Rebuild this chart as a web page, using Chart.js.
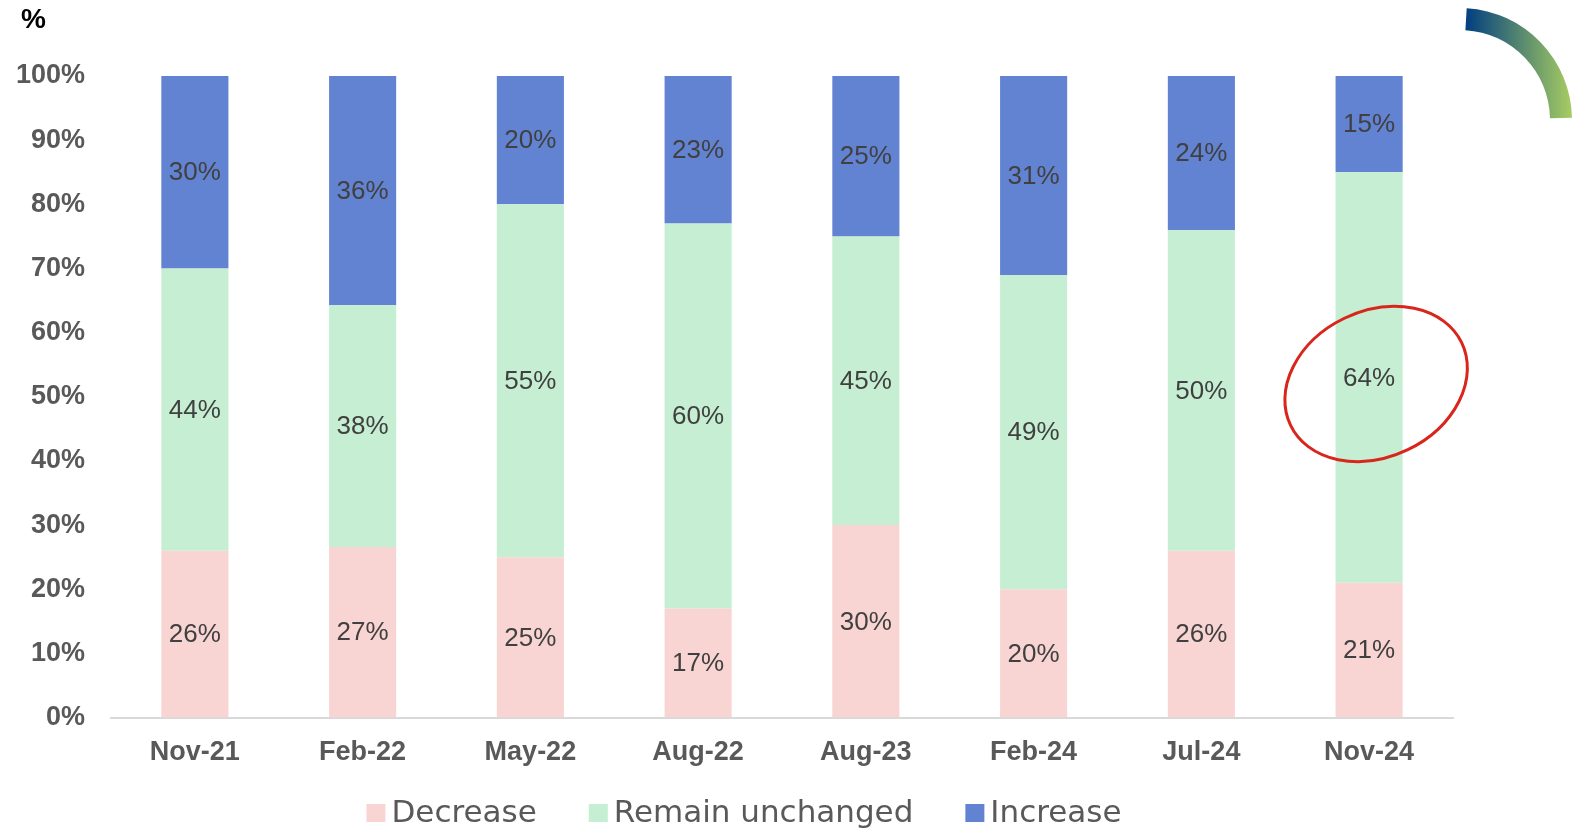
<!DOCTYPE html>
<html>
<head>
<meta charset="utf-8">
<script src="https://cdn.jsdelivr.net/npm/chart.js@4.4.1/dist/chart.umd.min.js"></script>
<style>
  html, body { margin: 0; padding: 0; background: #ffffff; }
  #wrap { position: relative; width: 1575px; height: 828px; }
  #unit { position: absolute; left: 21px; top: 5px; font: bold 28px/1 "Liberation Sans", sans-serif; color: #000; }
</style>
</head>
<body>
<div id="wrap">
  <canvas id="c" width="1575" height="828"></canvas>
  <div id="unit">%</div>
</div>
<script>
const categories = ["Nov-21", "Feb-22", "May-22", "Aug-22", "Aug-23", "Feb-24", "Jul-24", "Nov-24"];
const decreaseValues = [26, 26.6, 25, 17, 30, 20, 26, 21];
const unchangedValues = [44, 37.7, 55, 60, 45, 49, 50, 64];
const increaseValues = [30, 35.7, 20, 23, 25, 31, 24, 15];
const yTickValues = [0, 10, 20, 30, 40, 50, 60, 70, 80, 90, 100];
const seriesNames = ["Decrease", "Remain unchanged", "Increase"];
const seriesColors = ["#F8D5D2", "#C5EED2", "#6282D2"];
const highlightCategory = "Nov-24";
const highlightValue = 52;

const FONT = '"Liberation Sans", Arial, sans-serif';
const LEGEND_FONT = '"DejaVu Sans", sans-serif';

const segmentLabels = {
  id: 'segmentLabels',
  afterDatasetsDraw(chart) {
    const ctx = chart.ctx;
    ctx.save();
    ctx.font = '400 26px ' + FONT;
    ctx.fillStyle = '#404040';
    ctx.textAlign = 'center';
    ctx.textBaseline = 'middle';
    chart.data.datasets.forEach((ds, di) => {
      const meta = chart.getDatasetMeta(di);
      meta.data.forEach((bar, i) => {
        const v = ds.data[i];
        const y = (bar.y + bar.base) / 2;
        ctx.fillText(Math.round(v) + '%', bar.x, y + 1);
      });
    });
    ctx.restore();
  }
};

const bottomLegend = {
  id: 'bottomLegend',
  afterDraw(chart) {
    const ctx = chart.ctx;
    const ds = chart.data.datasets;
    ctx.save();
    ctx.font = '400 31px ' + LEGEND_FONT;
    ctx.textBaseline = 'middle';
    ctx.textAlign = 'left';
    const box = 19, gapBoxText = 6, gapItems = 52;
    const widths = ds.map(d => box + gapBoxText + ctx.measureText(d.label).width);
    const total = widths.reduce((a, b) => a + b, 0) + gapItems * (ds.length - 1);
    let x = 744 - total / 2;
    const cy = 813;
    ds.forEach((d, i) => {
      ctx.fillStyle = d.backgroundColor;
      ctx.fillRect(x, cy - 9, box, 18);
      ctx.fillStyle = '#595959';
      ctx.fillText(d.label, x + box + gapBoxText, cy + 1);
      x += widths[i] + gapItems;
    });
    ctx.restore();
  }
};

const decorations = {
  id: 'decorations',
  afterDraw(chart) {
    const ctx = chart.ctx;
    const xs = chart.scales.x, ys = chart.scales.y;
    const cx = xs.getPixelForValue(categories.indexOf(highlightCategory));
    const cy = ys.getPixelForValue(highlightValue);
    ctx.save();
    ctx.strokeStyle = '#D9261C';
    ctx.lineWidth = 3;
    ctx.beginPath();
    ctx.ellipse(cx + 7, cy, 95, 73, -0.45, 0, Math.PI * 2);
    ctx.stroke();
    ctx.restore();
    ctx.save();
    const ax = 1460, ay = 120;
    const g = ctx.createLinearGradient(1465, 0, 1570, 0);
    g.addColorStop(0, '#003E80');
    g.addColorStop(1, '#A4CA62');
    ctx.fillStyle = g;
    ctx.beginPath();
    ctx.arc(ax, ay, 112, -Math.PI / 2 + 0.06, -0.02, false);
    ctx.arc(ax, ay, 90, -0.02, -Math.PI / 2 + 0.06, true);
    ctx.closePath();
    ctx.fill();
    ctx.restore();
  }
};

new Chart(document.getElementById('c'), {
  type: 'bar',
  data: {
    labels: categories,
    datasets: [
      { label: seriesNames[0], data: decreaseValues, backgroundColor: seriesColors[0] },
      { label: seriesNames[1], data: unchangedValues, backgroundColor: seriesColors[1] },
      { label: seriesNames[2], data: increaseValues, backgroundColor: seriesColors[2] }
    ]
  },
  options: {
    responsive: false,
    animation: false,
    layout: { padding: { top: 76, right: 122, bottom: 40, left: 0 } },
    datasets: { bar: { categoryPercentage: 1.0, barPercentage: 0.4 } },
    plugins: {
      legend: { display: false },
      tooltip: { enabled: false }
    },
    scales: {
      x: {
        stacked: true,
        grid: { display: false, drawTicks: false },
        border: { display: true, color: '#D9D9D9', width: 2 },
        ticks: { font: { family: FONT, size: 27, weight: 'bold' }, color: '#595959', padding: 19 }
      },
      y: {
        stacked: true,
        min: 0, max: 100,
        afterBuildTicks(axis) { axis.ticks = yTickValues.map(v => ({ value: v })); },
        afterFit(axis) { axis.width = 111; },
        grid: { display: false, drawTicks: false },
        border: { display: false },
        ticks: {
          font: { family: FONT, size: 27, weight: 'bold' },
          color: '#595959',
          padding: 26,
          callback: v => v + '%'
        }
      }
    }
  },
  plugins: [segmentLabels, bottomLegend, decorations]
});
</script>
</body>
</html>
